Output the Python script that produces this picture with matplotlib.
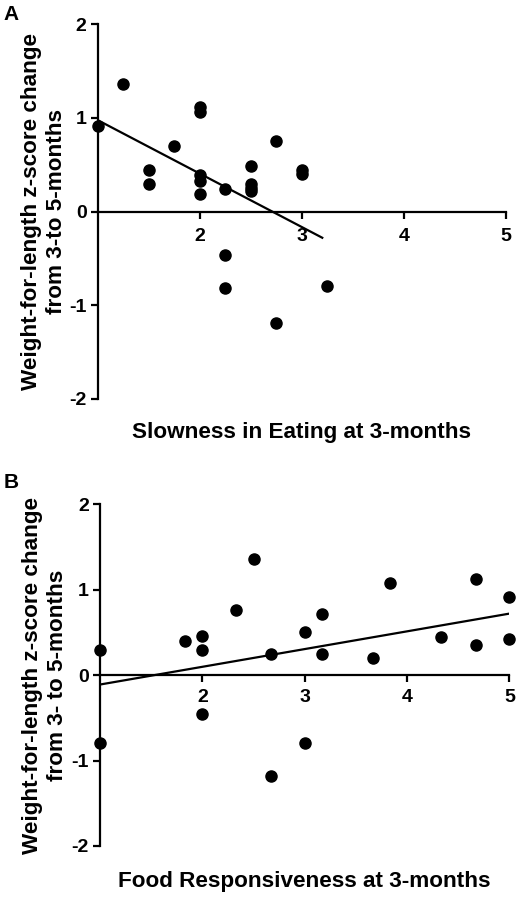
import matplotlib
matplotlib.use("Agg")
import matplotlib.pyplot as plt

plt.rcParams['font.family'] = ['Liberation Sans', 'DejaVu Sans']
plt.rcParams['font.weight'] = 'bold'
plt.rcParams['axes.unicode_minus'] = False

# Panel A: slowness in eating vs WFL z-score change
slow_x = [1.0, 1.25, 1.5, 1.5, 1.75, 2.0, 2.0, 2.0, 2.0, 2.0, 2.25, 2.25, 2.25,
          2.5, 2.5, 2.5, 2.5, 2.75, 2.75, 3.0, 3.0, 3.25]
slow_y = [0.91, 1.36, 0.44, 0.29, 0.70, 1.11, 1.06, 0.39, 0.33, 0.19, 0.24, -0.46, -0.82,
          0.49, 0.29, 0.25, 0.22, 0.75, -1.19, 0.44, 0.40, -0.80]
slow_fit_x = [1.0, 3.2]
slow_fit_y = [0.975, -0.28]

# Panel B: food responsiveness vs WFL z-score change
food_x = [1.0, 1.0, 1.83, 2.0, 2.0, 2.0, 2.33, 2.5, 2.67, 2.67, 3.0, 3.0, 3.17, 3.17,
          3.67, 3.83, 4.33, 4.67, 4.67, 5.0, 5.0]
food_y = [0.29, -0.80, 0.40, 0.46, 0.30, -0.45, 0.76, 1.36, 0.25, -1.18, 0.50, -0.79,
          0.71, 0.25, 0.20, 1.08, 0.45, 1.12, 0.35, 0.92, 0.42]
food_fit_x = [1.0, 5.0]
food_fit_y = [-0.11, 0.72]

x_ticks = [2, 3, 4, 5]
y_ticks = [-2, -1, 0, 1, 2]

fig = plt.figure(figsize=(5.21, 9.0), dpi=100)
ax_a = fig.add_axes([0.1875, 0.5567, 0.7837, 0.4166])
ax_b = fig.add_axes([0.1920, 0.0600, 0.7856, 0.3797])


def style(ax, xs, ys, fx, fy, xlabel, ylabel, xlab_off, ylab_x, xpad):
    ax.plot(xs, ys, 'o', color='black', markersize=8, clip_on=False, zorder=3)
    ax.plot(fx, fy, '-', color='black', linewidth=1.6, zorder=2)
    ax.set_xlim(1, 5)
    ax.set_ylim(-2, 2)
    for s in ['top', 'right']:
        ax.spines[s].set_visible(False)
    ax.spines['bottom'].set_position(('data', 0))
    ax.spines['left'].set_linewidth(1.6)
    ax.spines['bottom'].set_linewidth(1.6)
    ax.set_xticks(x_ticks)
    ax.set_yticks(y_ticks)
    ax.tick_params(width=1.6, length=5, labelsize=14, direction='out', pad=3)
    ax.tick_params(axis='x', pad=xpad)
    for lab in ax.get_xticklabels() + ax.get_yticklabels():
        lab.set_fontweight('bold')
    ax.set_ylabel(ylabel, fontsize=16.2, fontweight='bold', linespacing=1.25)
    ax.yaxis.set_label_coords(ylab_x, 0.5)
    ax.text(0.5, xlab_off, xlabel, transform=ax.transAxes, ha='center', va='center',
            fontsize=16.2, fontweight='bold')


style(ax_a, slow_x, slow_y, slow_fit_x, slow_fit_y,
      'Slowness in Eating at 3-months',
      'Weight-for-length z-score change\nfrom 3-to 5-months', -0.089, -0.075, 7)
style(ax_b, food_x, food_y, food_fit_x, food_fit_y,
      'Food Responsiveness at 3-months',
      'Weight-for-length z-score change\nfrom 3- to 5-months', -0.103, -0.078, 5)

fig.text(0.006, 0.995, 'A', fontsize=15, fontweight='bold', va='top')
fig.text(0.006, 0.475, 'B', fontsize=15, fontweight='bold', va='top')

fig.savefig('out.png', dpi=100)
